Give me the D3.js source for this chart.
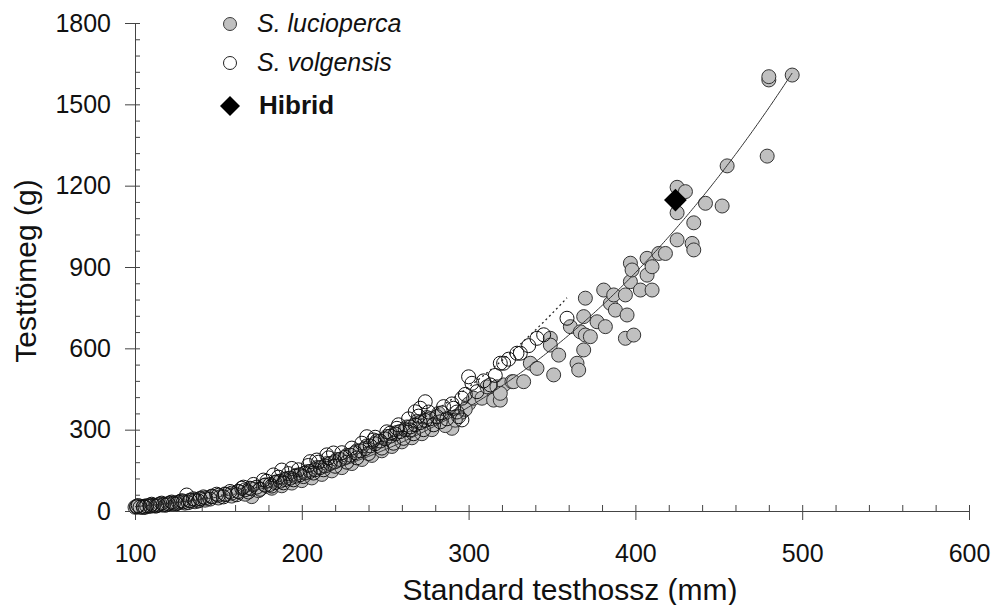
<!DOCTYPE html>
<html>
<head>
<meta charset="utf-8">
<script src="https://cdn.jsdelivr.net/npm/d3@7"></script>
<style>
  body { margin: 0; background: #fff; }
  svg { font-family: "Liberation Sans", Arial, sans-serif; }
</style>
</head>
<body>
<div id="plot"></div>
<script>
// Standard length (mm) and body mass (g)
const luciopercaL = [100,102,104,106,108,110,113,116,119,122,125,128,131,134,137,140,144,148,152,156,
  160,163,167,170,172,176,180,183,186,189,192,195,198,201,204,207,210,213,216,219,
  222,225,228,231,234,237,240,243,246,249,252,255,258,261,264,267,270,273,276,280,
  284,288,290,293,296,300,303,308,311,315,317,319,321,326,319,327,333,337,341,349,
  349,351,354,361,365,366,367,369,370,370,369,373,377,381,382,385,387,388,394,394,
  395,397,397,398,399,403,407,407,410,410,414,418,425,425,425,430,434,435,435,442,
  452,455,479,480,480,494,
  101,105,109,112,115,118,121,124,127,130,133,136,139,142,146,150,154,158,162,166,
  170,174,178,182,185,188,191,194,197,200,203,206,209,212,215,218,221,224,227,230,
  233,236,239,242,245,248,251,254,257,260,263,266,269,272,275,278,282,286,292,298];
const luciopercaW = [14,16,15,18,17,19,21,22,25,27,30,31,35,36,40,43,47,52,55,60,
  64,68,73,53,80,86,90,95,100,104,110,116,120,128,133,140,147,152,160,168,
  175,183,190,197,205,212,220,226,236,244,252,262,270,278,290,298,306,315,323,336,
  345,330,305,350,365,395,416,416,458,409,458,409,465,477,434,477,477,545,526,637,
  612,502,575,680,545,520,661,594,649,785,717,643,698,815,680,766,797,741,797,637,
  723,914,846,889,649,815,932,870,815,901,950,950,1000,1100,1194,1178,987,963,1063,1135,
  1125,1273,1309,1590,1602,1608,
  18,13,22,18,26,21,30,25,35,29,40,34,46,40,55,48,63,55,72,62,
  82,75,96,84,108,93,120,103,132,112,145,122,160,135,175,148,190,160,205,175,
  222,190,240,205,258,222,275,238,290,255,310,270,330,285,345,300,360,315,335,375];

const volgensisL = [101,103,105,107,109,111,114,117,120,123,126,129,131,133,136,139,142,146,150,154,
  158,162,164,166,169,173,177,178,181,183,184,187,188,190,193,194,196,199,202,205,
  205,208,209,211,214,215,217,220,219,223,226,229,232,235,238,239,241,243,244,247,
  250,253,253,256,257,259,262,265,265,268,268,271,271,274,274,277,281,283,285,291,
  294,296,296,300,302,313,319,321,329,331,341,359,
  102,106,110,113,116,119,122,125,128,132,135,138,141,145,149,153,157,161,165,168,
  171,175,179,182,186,189,192,195,198,201,204,207,210,213,216,220,224,227,230,233,
  236,240,244,248,251,255,258,261,264,267,270,273,276,279,284,287,290,293,298,305,
  309,316,324,336,345];
const volgensisW = [15,14,17,19,18,21,23,24,27,29,32,34,59,38,41,45,48,53,58,61,
  66,72,84,78,84,88,114,95,98,133,105,110,151,116,121,157,128,134,140,182,
  146,152,188,160,166,207,175,182,214,190,198,206,215,222,230,274,240,262,248,258,
  266,287,276,284,305,293,300,299,310,366,318,379,326,403,334,340,348,329,385,379,
  348,336,416,495,471,465,545,545,582,582,637,711,
  20,14,25,19,29,23,33,27,38,31,45,37,52,44,62,52,72,60,88,70,
  98,80,110,92,125,104,138,115,152,127,168,140,180,152,196,165,215,180,232,196,
  250,212,272,232,292,250,318,268,340,285,350,300,365,318,362,340,395,365,430,440,
  480,500,560,610,650];

const hybridL = [424];
const hybridW = [1147];

const xTicks = [100, 200, 300, 400, 500, 600];
const yTicks = [0, 300, 600, 900, 1200, 1500, 1800];

const width = 993;
const height = 605;

const svg = d3.select("#plot")
  .append("svg")
  .attr("width", width)
  .attr("height", height);

const x = d3.scaleLinear().domain([100, 600]).range([135, 969]);
const y = d3.scaleLinear().domain([0, 1800]).range([511, 23]);

// power trendline W = a * L^b, least squares in log-log space
function powerFit(L, W) {
  const lx = L.map(Math.log), ly = W.map(Math.log);
  const mx = d3.mean(lx), my = d3.mean(ly);
  const b = d3.sum(lx, (v, i) => (v - mx) * (ly[i] - my)) / d3.sum(lx, v => (v - mx) * (v - mx));
  const a = Math.exp(my - b * mx);
  const [lo, hi] = d3.extent(L);
  return d3.range(lo, hi, 1).concat([hi]).map(l => [l, a * Math.pow(l, b)]);
}

// x axis: labels + outside ticks, then inner minor ticks
svg.append("g")
  .attr("transform", "translate(0,511)")
  .call(d3.axisBottom(x).tickValues(xTicks).tickSize(9).tickPadding(24).tickFormat(d3.format("d")))
  .call(g => g.select(".domain").remove())
  .call(g => g.selectAll("line").attr("stroke", "#444"))
  .call(g => g.selectAll("text").attr("font-size", 25).attr("fill", "#111").attr("font-family", "Liberation Sans, Arial"));

svg.append("g")
  .attr("transform", "translate(0,511)")
  .call(d3.axisTop(x).tickValues(d3.range(100, 601, 20)).tickSize(6).tickFormat(""))
  .call(g => g.select(".domain").attr("stroke", "#444"))
  .call(g => g.selectAll("line").attr("stroke", "#444"));

// y axis
svg.append("g")
  .attr("transform", "translate(135,0)")
  .call(d3.axisLeft(y).tickValues(yTicks).tickSize(10).tickPadding(14).tickFormat(d3.format("d")))
  .call(g => g.select(".domain").remove())
  .call(g => g.selectAll("line").attr("stroke", "#444"))
  .call(g => g.selectAll("text").attr("font-size", 25).attr("fill", "#111").attr("font-family", "Liberation Sans, Arial"));

svg.append("g")
  .attr("transform", "translate(135,0)")
  .call(d3.axisRight(y).tickValues(d3.range(0, 1801, 60)).tickSize(5).tickFormat(""))
  .call(g => g.select(".domain").attr("stroke", "#444"))
  .call(g => g.selectAll("line").attr("stroke", "#444"));

// axis titles
svg.append("text")
  .attr("x", 570)
  .attr("y", 600)
  .attr("text-anchor", "middle")
  .attr("font-size", 30)
  .attr("fill", "#111")
  .text("Standard testhossz (mm)");

svg.append("text")
  .attr("transform", "translate(36,271) rotate(-90)")
  .attr("text-anchor", "middle")
  .attr("font-size", 30)
  .attr("fill", "#111")
  .text("Testtömeg (g)");

// points: S. lucioperca first, open S. volgensis outlines on top
svg.append("g")
  .selectAll("circle")
  .data(luciopercaL.map((l, i) => [l, luciopercaW[i]]))
  .join("circle")
  .attr("cx", d => x(d[0]))
  .attr("cy", d => y(d[1]))
  .attr("r", 7)
  .attr("fill", "#c0c0c0")
  .attr("stroke", "#333")
  .attr("stroke-width", 1);

svg.append("g")
  .selectAll("circle")
  .data(volgensisL.map((l, i) => [l, volgensisW[i]]))
  .join("circle")
  .attr("cx", d => x(d[0]))
  .attr("cy", d => y(d[1]))
  .attr("r", 7)
  .attr("fill", "none")
  .attr("stroke", "#111")
  .attr("stroke-width", 1);

svg.append("g")
  .selectAll("path")
  .data(hybridL.map((l, i) => [l, hybridW[i]]))
  .join("path")
  .attr("transform", d => `translate(${x(d[0])},${y(d[1])}) rotate(45)`)
  .attr("d", d3.symbol().type(d3.symbolSquare).size(260))
  .attr("fill", "#000");

// trendlines
const line = d3.line().x(d => x(d[0])).y(d => y(d[1]));

svg.append("path")
  .datum(powerFit(luciopercaL, luciopercaW))
  .attr("d", line)
  .attr("fill", "none")
  .attr("stroke", "#333")
  .attr("stroke-width", 1);

svg.append("path")
  .datum(powerFit(volgensisL, volgensisW))
  .attr("d", line)
  .attr("fill", "none")
  .attr("stroke", "#222")
  .attr("stroke-width", 1.3)
  .attr("stroke-dasharray", "2,3");

// legend
const legend = svg.append("g");

legend.append("circle")
  .attr("cx", 230).attr("cy", 24).attr("r", 6.5)
  .attr("fill", "#c0c0c0").attr("stroke", "#3a3a3a");

legend.append("circle")
  .attr("cx", 230).attr("cy", 63).attr("r", 6.5)
  .attr("fill", "#fff").attr("stroke", "#222");

legend.append("path")
  .attr("transform", "translate(230,106) rotate(45)")
  .attr("d", d3.symbol().type(d3.symbolSquare).size(200))
  .attr("fill", "#000");

legend.append("text")
  .attr("x", 257).attr("y", 32)
  .attr("font-size", 25).attr("font-style", "italic").attr("fill", "#111")
  .text("S. lucioperca");

legend.append("text")
  .attr("x", 257).attr("y", 71)
  .attr("font-size", 25).attr("font-style", "italic").attr("fill", "#111")
  .text("S. volgensis");

legend.append("text")
  .attr("x", 259).attr("y", 114)
  .attr("font-size", 26).attr("font-weight", "bold").attr("fill", "#111")
  .text("Hibrid");
</script>
</body>
</html>
